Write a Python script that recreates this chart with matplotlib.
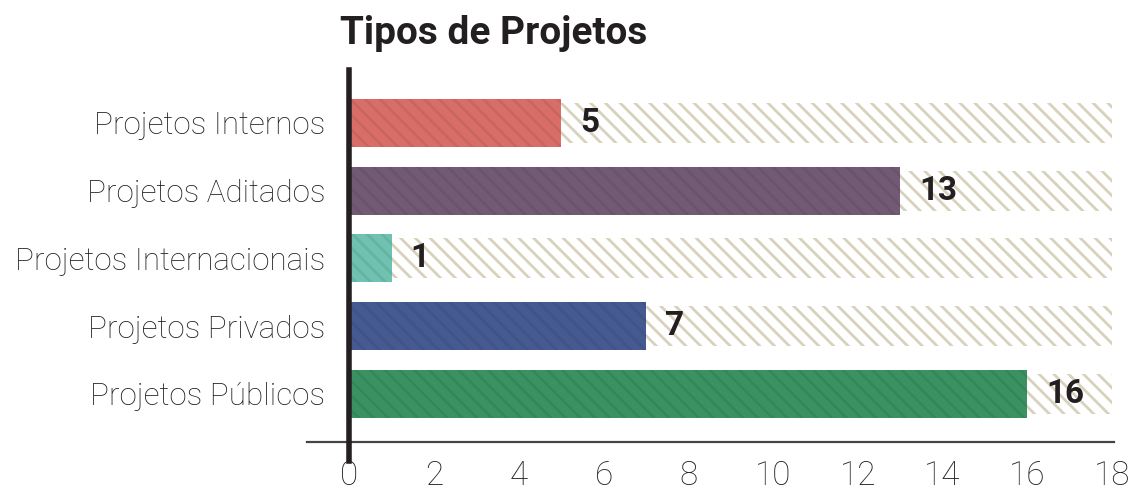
import matplotlib.pyplot as plt
import matplotlib.transforms as mtransforms

# dados
categorias = ['Projetos Internos', 'Projetos Aditados', 'Projetos Internacionais',
              'Projetos Privados', 'Projetos Públicos']
valores = [5, 13, 1, 7, 16]
cores = ['#d96e68', '#735a74', '#6fc1b0', '#465a92', '#3a9262']
maximo = 18
ticks = list(range(0, 19, 2))

plt.rcParams['font.family'] = ['Roboto', 'DejaVu Sans']
plt.rcParams['hatch.linewidth'] = 1.5

dpi = 133
fig = plt.figure(figsize=(1144 / dpi, 493 / dpi), dpi=dpi)
ax = fig.add_axes([307 / 1144, 1 - 442 / 493, (1114 - 307) / 1144, (442 - 70) / 493])

pos = list(range(len(categorias)))[::-1]  # primeiro em cima

# barras de fundo hachuradas ate o maximo
ax.barh(pos, [maximo] * len(pos), height=0.59, color='white', edgecolor='#d8d2bc',
        linewidth=0, hatch='\\\\\\', zorder=1)
# barras coloridas
ax.barh(pos, valores, height=0.71, color=cores, linewidth=0, zorder=2)
# hachura sutil por cima das barras
ax.barh(pos, valores, height=0.71, color='none', edgecolor=(0, 0, 0, 0.07),
        linewidth=0, hatch='\\\\\\', zorder=3)

for p, v in zip(pos, valores):
    ax.text(v + 0.45, p, str(v), va='center', ha='left', fontsize=18,
            fontweight='bold', color='#231f20', zorder=4)

# linha vertical grossa no zero
trans = mtransforms.blended_transform_factory(ax.transData, ax.transAxes)
ax.plot([0, 0], [-0.05, 1], color='#231f20', lw=3, transform=trans, clip_on=False, zorder=5)

ax.set_xlim(-1.0, 18.05)
ax.set_ylim(-0.71, 4.78)
ax.set_xticks(ticks)
ax.set_yticks(pos)
ax.set_yticklabels(categorias)
ax.tick_params(axis='both', length=0, colors='#231f20')
ax.tick_params(axis='x', labelsize=18, pad=10)
ax.tick_params(axis='y', labelsize=17, pad=-10)
for lab in ax.get_xticklabels() + ax.get_yticklabels():
    lab.set_fontweight('light')

for s in ['top', 'right', 'left']:
    ax.spines[s].set_visible(False)
ax.spines['bottom'].set_color('#444444')
ax.spines['bottom'].set_linewidth(1.2)

fig.text(340 / 1144, 1 - 44 / 493, 'Tipos de Projetos', fontsize=21, fontweight='bold',
         color='#231f20', ha='left', va='baseline')

fig.savefig('out.png', dpi=dpi)
